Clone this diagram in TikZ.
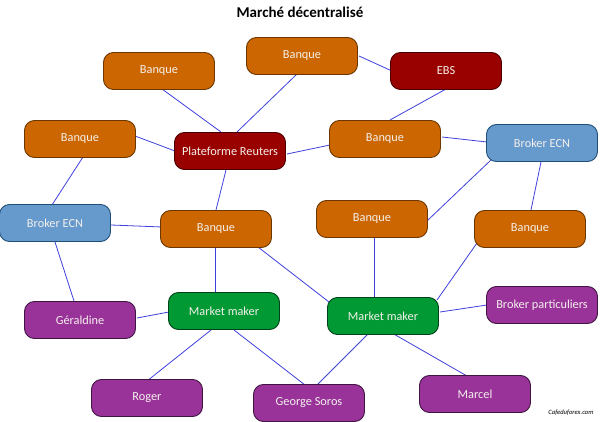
\documentclass[tikz,border=0pt]{standalone}
\usepackage{fontspec}
\setmainfont{Carlito}
\usetikzlibrary{calc}
\definecolor{banq}{HTML}{CC6600}
\definecolor{banqb}{HTML}{6B3600}
\definecolor{plat}{HTML}{990000}
\definecolor{platb}{HTML}{4A0000}
\definecolor{ecn}{HTML}{6699CC}
\definecolor{ecnb}{HTML}{1F4E79}
\definecolor{mm}{HTML}{009933}
\definecolor{mmb}{HTML}{00401A}
\definecolor{pers}{HTML}{993399}
\definecolor{persb}{HTML}{401540}
\definecolor{edge}{HTML}{4040DD}
\definecolor{txt}{HTML}{F4F0EC}
\tikzset{
  box/.style={rounded corners=10pt, minimum width=111pt, minimum height=37pt,
    inner sep=0pt, line width=0.9pt, text=txt, font=\fontsize{12.3}{14}\selectfont},
  banque/.style={box, fill=banq, draw=banqb},
  platf/.style={box, fill=plat, draw=platb},
  brokerecn/.style={box, fill=ecn, draw=ecnb},
  mmaker/.style={box, fill=mm, draw=mmb},
  person/.style={box, fill=pers, draw=persb},
  link/.style={draw=edge, line width=0.8pt},
}
\begin{document}
\begin{tikzpicture}[x=1pt,y=-1pt]
\useasboundingbox (0,0) rectangle (600,422);
\fill[white] (0,0) rectangle (600,422);
\node[font=\bfseries\fontsize{15}{18}\selectfont] (title) at (300,12) {Marché décentralisé};
\node[font=\itshape\fontsize{6.6}{8}\selectfont] (wm) at (571,413) {Cafeduforex.com};

\coordinate (btl) at (159,71);
\coordinate (btm) at (302,56);
\coordinate (ebs) at (446,71);
\coordinate (bl) at (80,139);
\coordinate (reu) at (230,151);
\coordinate (bmr) at (385,139);
\coordinate (ecnr) at (542,143);
\coordinate (ecnl) at (55,223);
\coordinate (bc) at (216,229);
\coordinate (brm) at (372,219);
\coordinate (bfr) at (530,229);
\coordinate (ger) at (80,320);
\coordinate (mml) at (224,311);
\coordinate (mmr) at (383,316);
\coordinate (bp) at (542,305);
\coordinate (rog) at (147,398);
\coordinate (geo) at (309,403);
\coordinate (mar) at (475,394);

\path[link] ($(btl)+(3,18)$) -- ($(reu)+(-9,-19)$);
\path[link] ($(btm)+(-5,18)$) -- ($(reu)+(7,-19)$);
\path[link] ($(btm)+(57,0)$) -- ($(ebs)+(-54,0)$);
\path[link] ($(ebs)+(0,18)$) -- ($(bmr)+(5,-19)$);
\path[link] ($(bl)+(55,-3)$) -- ($(reu)+(-55,0)$);
\path[link] ($(reu)+(57,3)$) -- ($(bmr)+(-55,6)$);
\path[link] ($(bmr)+(57,-2)$) -- ($(ecnr)+(-55,-1)$);
\path[link] ($(bl)+(3,18)$) -- ($(ecnl)+(-3,-18)$);
\path[link] ($(reu)+(-4,19)$) -- ($(bc)+(0,-19)$);
\path[link] ($(ecnl)+(56,2)$) -- ($(bc)+(-54,-2)$);
\path[link] ($(ecnl)+(0,19)$) -- ($(ger)+(-6,-19)$);
\path[link] ($(bc)+(-1,18)$) -- ($(mml)+(-9,-18)$);
\path[link] ($(bc)+(42,18)$) -- ($(mmr)+(-54,-14)$);
\path[link] ($(ger)+(57,-2)$) -- ($(mml)+(-55,1)$);
\path[link] ($(mml)+(-13,19)$) -- ($(rog)+(0,-17)$);
\path[link] ($(mml)+(10,19)$) -- ($(geo)+(-4,-18)$);
\path[link] ($(mmr)+(-15,18)$) -- ($(geo)+(8,-18)$);
\path[link] ($(mmr)+(57,-4)$) -- ($(bp)+(-55,0)$);
\path[link] ($(mmr)+(9,17)$) -- ($(mar)+(-8,-18)$);
\path[link] ($(ecnr)+(-50,16)$) -- ($(brm)+(56,1)$);
\path[link] ($(ecnr)+(-1,19)$) -- ($(bfr)+(1,-19)$);
\path[link] ($(brm)+(2,18)$) -- ($(mmr)+(-9,-19)$);
\path[link] ($(bfr)+(-53,14)$) -- ($(mmr)+(54,-16)$);

\node[banque] (nbtl) at (btl) {Banque};
\node[banque] (nbtm) at (btm) {Banque};
\node[platf] (nebs) at (ebs) {EBS};
\node[banque] (nbl) at (bl) {Banque};
\node[platf] (nreu) at (reu) {Plateforme Reuters};
\node[banque] (nbmr) at (bmr) {Banque};
\node[brokerecn] (necnr) at (ecnr) {Broker ECN};
\node[brokerecn] (necnl) at (ecnl) {Broker ECN};
\node[banque] (nbc) at (bc) {Banque};
\node[banque] (nbrm) at (brm) {Banque};
\node[banque] (nbfr) at (bfr) {Banque};
\node[person] (nger) at (ger) {Géraldine};
\node[mmaker] (nmml) at (mml) {Market maker};
\node[mmaker] (nmmr) at (mmr) {Market maker};
\node[person] (nbp) at (bp) {Broker particuliers};
\node[person] (nrog) at (rog) {Roger};
\node[person] (ngeo) at (geo) {George Soros};
\node[person] (nmar) at (mar) {Marcel};
\end{tikzpicture}
\end{document}
